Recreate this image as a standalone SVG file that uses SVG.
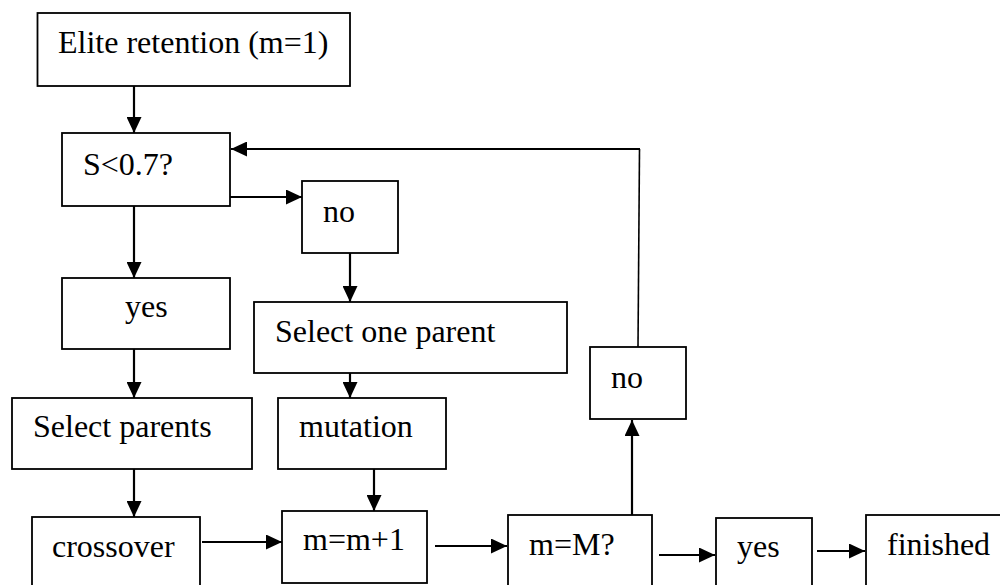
<svg xmlns="http://www.w3.org/2000/svg" width="1000" height="585" viewBox="0 0 1000 585">
<defs>
<marker id="ah" markerUnits="userSpaceOnUse" markerWidth="16" markerHeight="15" refX="16" refY="7.5" orient="auto">
<path d="M0,0 L16,7.5 L0,15 z" fill="#000"/>
</marker>
<style>
.box{fill:#fff;stroke:#000;stroke-width:1.8}
.t{font-family:"Liberation Serif","Times New Roman",serif;font-size:32px;fill:#000}
.a{fill:none;stroke:#000;stroke-width:2.2;marker-end:url(#ah)}
.l{fill:none;stroke:#000;stroke-width:1.6}
</style>
</defs>
<rect width="1000" height="585" fill="#fff"/>
<g id="connectors">
<line class="a" x1="134" y1="86" x2="134" y2="133"/>
<line class="a" x1="230" y1="197" x2="302" y2="197"/>
<line class="a" x1="134" y1="206" x2="134" y2="278"/>
<line class="a" x1="350" y1="253" x2="350" y2="302"/>
<line class="a" x1="134" y1="349" x2="134" y2="398"/>
<line class="a" x1="350" y1="373" x2="350" y2="398"/>
<line class="a" x1="134" y1="469" x2="134" y2="517"/>
<line class="a" x1="374" y1="469" x2="374" y2="511"/>
<line class="a" x1="202" y1="542" x2="282" y2="542"/>
<line class="a" x1="435" y1="546" x2="507" y2="546"/>
<line class="a" x1="632" y1="515" x2="632" y2="420"/>
<line class="a" x1="659" y1="555" x2="715" y2="555"/>
<line class="a" x1="817" y1="551" x2="865" y2="551"/>
<polyline class="l" points="638,347 639.5,149"/>
<line class="a" x1="640" y1="149" x2="231" y2="149"/>
</g>
<g id="n-elite">
<rect class="box" x="37.5" y="13" width="312.5" height="73"/>
<text class="t" x="58" y="53">Elite retention (m=1)</text>
</g>
<g id="n-s">
<rect class="box" x="62" y="133" width="168" height="73"/>
<text class="t" x="83" y="175">S&lt;0.7?</text>
</g>
<g id="n-no1">
<rect class="box" x="302" y="181" width="96" height="72"/>
<text class="t" x="323" y="222">no</text>
</g>
<g id="n-yes1">
<rect class="box" x="62" y="278" width="168" height="71"/>
<text class="t" x="125" y="317">yes</text>
</g>
<g id="n-selone">
<rect class="box" x="254" y="302" width="313" height="71"/>
<text class="t" x="275" y="342">Select one parent</text>
</g>
<g id="n-selparents">
<rect class="box" x="12" y="398" width="240" height="71"/>
<text class="t" x="33" y="437">Select parents</text>
</g>
<g id="n-mutation">
<rect class="box" x="278" y="398" width="168" height="71"/>
<text class="t" x="299" y="437">mutation</text>
</g>
<g id="n-crossover">
<rect class="box" x="32" y="517" width="168" height="90"/>
<text class="t" x="52" y="557">crossover</text>
</g>
<g id="n-mm1">
<rect class="box" x="282" y="511" width="145" height="72"/>
<text class="t" x="303" y="550">m=m+1</text>
</g>
<g id="n-mM">
<rect class="box" x="508" y="515" width="144" height="90"/>
<text class="t" x="529" y="555">m=M?</text>
</g>
<g id="n-no2">
<rect class="box" x="590" y="347" width="96" height="72"/>
<text class="t" x="611" y="388">no</text>
</g>
<g id="n-yes2">
<rect class="box" x="716" y="518" width="96" height="90"/>
<text class="t" x="737" y="557">yes</text>
</g>
<g id="n-finished">
<rect class="box" x="866" y="515" width="150" height="90"/>
<text class="t" x="887" y="555">finished</text>
</g>
</svg>
